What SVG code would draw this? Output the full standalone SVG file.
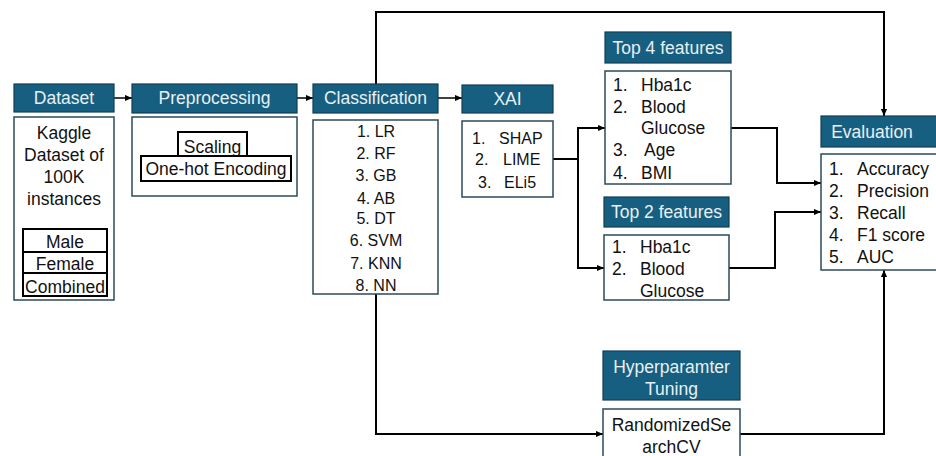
<svg xmlns="http://www.w3.org/2000/svg" width="936" height="456" viewBox="0 0 936 456">
<defs>
<marker id="ah" viewBox="0 0 8 8" refX="8" refY="4" markerWidth="7" markerHeight="7" markerUnits="userSpaceOnUse" orient="auto">
<path d="M0,0.5 L8,4 L0,7.5 Z" fill="#000"/>
</marker>
<style>
.hd{fill:#175f80;stroke:#0f3e55;stroke-width:1.2}
.bd{fill:#fff;stroke:#2d4a5a;stroke-width:1.5}
.ib{fill:#fff;stroke:#000;stroke-width:2}
.ht{font-family:"Liberation Sans",Arial,sans-serif;font-size:17.5px;fill:#e9f0f4;text-anchor:middle}
.t{font-family:"Liberation Sans",Arial,sans-serif;font-size:17.5px;fill:#111}
.s{font-family:"Liberation Sans",Arial,sans-serif;font-size:16px;fill:#111}
.c{text-anchor:middle}
.ln{fill:none;stroke:#000;stroke-width:2}
.la{fill:none;stroke:#000;stroke-width:1.5}
</style>
</defs>

<g id="connectors">
<path class="la" d="M114 98 H132" marker-end="url(#ah)"/>
<path class="la" d="M297 98 H313" marker-end="url(#ah)"/>
<path class="la" d="M438 98 H462" marker-end="url(#ah)"/>
<path class="ln" d="M553 159 H578"/>
<path class="ln" d="M578 128 V268"/>
<path class="ln" d="M577 128 H605" marker-end="url(#ah)"/>
<path class="ln" d="M577 268 H604" marker-end="url(#ah)"/>
<path class="ln" d="M731 128 H777 V183 H821" marker-end="url(#ah)"/>
<path class="ln" d="M729 268 H775 V212 H821" marker-end="url(#ah)"/>
<path class="ln" d="M376 84 V12 H884 V116" marker-end="url(#ah)"/>
<path class="ln" d="M376 294 V434 H603" marker-end="url(#ah)"/>
<path class="ln" d="M740 434 H884 V270" marker-end="url(#ah)"/>
</g>

<g id="dataset">
<rect class="hd" x="14" y="84" width="100" height="28"/>
<text class="ht" x="64" y="104">Dataset</text>
<rect class="bd" x="14" y="117" width="100" height="183"/>
<text class="t c" x="64" y="139">Kaggle</text>
<text class="t c" x="64" y="161">Dataset of</text>
<text class="t c" x="64" y="183">100K</text>
<text class="t c" x="64" y="205">instances</text>
<rect class="ib" x="23" y="229" width="84" height="23"/>
<text class="t c" x="65" y="248">Male</text>
<rect class="ib" x="23" y="252" width="84" height="21"/>
<text class="t c" x="65" y="270">Female</text>
<rect class="ib" x="23" y="273" width="84" height="23"/>
<text class="t c" x="65" y="293">Combined</text>
</g>

<g id="preprocessing">
<rect class="hd" x="132" y="84" width="165" height="29"/>
<text class="ht" x="214.5" y="104">Preprocessing</text>
<rect class="bd" x="132" y="117" width="165" height="79"/>
<rect class="ib" x="178" y="132" width="69" height="24"/>
<text class="t c" x="212.5" y="153">Scaling</text>
<rect class="ib" x="141" y="156" width="150" height="25"/>
<text class="t c" x="216" y="175">One-hot Encoding</text>
</g>

<g id="classification">
<rect class="hd" x="313" y="84" width="125" height="29"/>
<text class="ht" x="375.5" y="104">Classification</text>
<rect class="bd" x="313" y="120" width="125" height="174"/>
<text class="s c" x="376" y="137">1. LR</text>
<text class="s c" x="376" y="159">2. RF</text>
<text class="s c" x="376" y="181">3. GB</text>
<text class="s c" x="376" y="204">4. AB</text>
<text class="s c" x="376" y="224">5. DT</text>
<text class="s c" x="376" y="246">6. SVM</text>
<text class="s c" x="376" y="269">7. KNN</text>
<text class="s c" x="376" y="291">8. NN</text>
</g>

<g id="xai">
<rect class="hd" x="462" y="85" width="91" height="28"/>
<text class="ht" x="507.5" y="105">XAI</text>
<rect class="bd" x="462" y="121" width="91" height="76"/>
<text class="s" x="472" y="144">1.</text><text class="s" x="499" y="144">SHAP</text>
<text class="s" x="475" y="165">2.</text><text class="s" x="503" y="165">LIME</text>
<text class="s" x="478" y="188">3.</text><text class="s" x="504" y="188">ELi5</text>
</g>

<g id="top4">
<rect class="hd" x="605" y="32" width="126" height="31"/>
<text class="ht" x="668" y="53.5">Top 4 features</text>
<rect class="bd" x="605" y="71" width="126" height="113"/>
<text class="t" x="613" y="91">1.</text><text class="t" x="641" y="91">Hba1c</text>
<text class="t" x="613" y="113">2.</text><text class="t" x="641" y="113">Blood</text>
<text class="t" x="641" y="134">Glucose</text>
<text class="t" x="613" y="156">3.</text><text class="t" x="644" y="156">Age</text>
<text class="t" x="613" y="179">4.</text><text class="t" x="641" y="179">BMI</text>
</g>

<g id="top2">
<rect class="hd" x="604" y="197" width="125" height="30"/>
<text class="ht" x="666.5" y="218">Top 2 features</text>
<rect class="bd" x="604" y="235" width="125" height="65"/>
<text class="t" x="612" y="253">1.</text><text class="t" x="640" y="253">Hba1c</text>
<text class="t" x="612" y="275">2.</text><text class="t" x="640" y="275">Blood</text>
<text class="t" x="640" y="297">Glucose</text>
</g>

<g id="evaluation">
<rect class="hd" x="821" y="116" width="122" height="31"/>
<text class="ht" x="872" y="137.5">Evaluation</text>
<rect class="bd" x="821" y="154" width="122" height="116"/>
<text class="t" x="829" y="175">1.</text><text class="t" x="857" y="175">Accuracy</text>
<text class="t" x="829" y="197">2.</text><text class="t" x="857" y="197">Precision</text>
<text class="t" x="829" y="219">3.</text><text class="t" x="857" y="219">Recall</text>
<text class="t" x="829" y="241">4.</text><text class="t" x="857" y="241">F1 score</text>
<text class="t" x="829" y="263">5.</text><text class="t" x="857" y="263">AUC</text>
</g>

<g id="hyperparameter">
<rect class="hd" x="603" y="351" width="137" height="49"/>
<text class="ht" x="671.5" y="373">Hyperparamter</text>
<text class="ht" x="671.5" y="395">Tuning</text>
<rect class="bd" x="603" y="409" width="137" height="52"/>
<text class="t c" x="671.5" y="431">RandomizedSe</text>
<text class="t c" x="671.5" y="453">archCV</text>
</g>
</svg>
